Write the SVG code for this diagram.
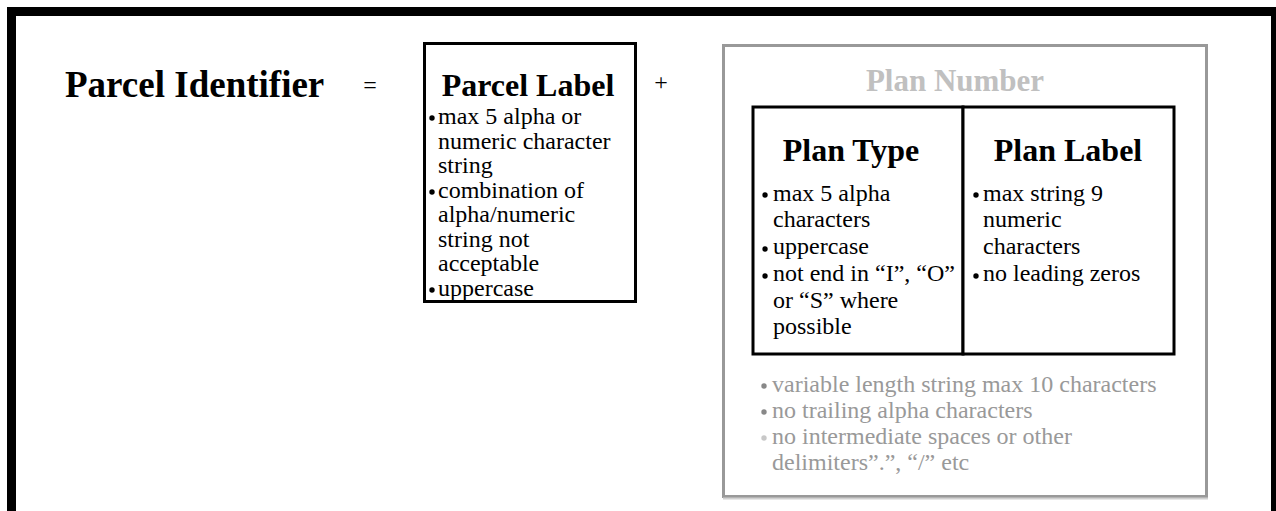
<svg xmlns="http://www.w3.org/2000/svg" width="1276" height="511" viewBox="0 0 1276 511" font-family="'Liberation Serif', 'Times New Roman', Times, serif">
<style>
text{font-family:"Liberation Serif","Times New Roman",Times,serif;}
.h{font-weight:bold;}
.b{font-size:24px;fill:#000;}
.g{font-size:24px;fill:#999;}
.box{fill:#fff;stroke:#000;stroke-width:3;}
</style>
<rect width="1276" height="511" fill="#fff"/>
<rect id="frame" x="11.5" y="11.5" width="1264" height="530" fill="none" stroke="#000" stroke-width="9"/>
<g id="parcel-identifier">
<text class="h" x="65" y="97" font-size="37">Parcel Identifier</text>
</g>
<g id="ops">
<text x="370" y="93" font-size="24" text-anchor="middle">=</text>
<text x="661" y="90" font-size="24" text-anchor="middle">+</text>
</g>
<g id="parcel-label">
<rect class="box" x="424.5" y="43.5" width="211" height="258"/>
<text class="h" x="528" y="96" font-size="32" text-anchor="middle">Parcel Label</text>
<g fill="#000">
<circle cx="432" cy="118" r="2.7"/><circle cx="432" cy="192" r="2.7"/><circle cx="432" cy="290" r="2.7"/>
</g>
<text class="b" x="438" y="124">max 5 alpha or</text>
<text class="b" x="438" y="148.5">numeric character</text>
<text class="b" x="438" y="173">string</text>
<text class="b" x="438" y="197.5">combination of</text>
<text class="b" x="438" y="222">alpha/numeric</text>
<text class="b" x="438" y="246.5">string not</text>
<text class="b" x="438" y="271">acceptable</text>
<text class="b" x="438" y="295.5">uppercase</text>
</g>
<g id="plan-number">
<rect x="723.5" y="45.5" width="483" height="451" fill="#fff" stroke="#999" stroke-width="3"/>
<line x1="723" y1="498.5" x2="1208" y2="498.5" stroke="#d0d0d0" stroke-width="2"/>
<text class="h" x="955" y="91" font-size="31" fill="#c0c0c0" text-anchor="middle">Plan Number</text>
<circle cx="764" cy="386" r="2.7" fill="#888"/>
<circle cx="764" cy="412" r="2.7" fill="#888"/>
<circle cx="764" cy="438" r="2.7" fill="#c8c8c8"/>
<text class="g" x="772" y="392">variable length string max 10 characters</text>
<text class="g" x="772" y="418">no trailing alpha characters</text>
<text class="g" x="772" y="444">no intermediate spaces or other</text>
<text class="g" x="772" y="470">delimiters”.”, “/” etc</text>
</g>
<g id="plan-type">
<rect class="box" x="753" y="107" width="210" height="247"/>
<text class="h" x="851" y="161" font-size="32" text-anchor="middle">Plan Type</text>
<g fill="#000">
<circle cx="765" cy="195" r="2.7"/><circle cx="765" cy="249" r="2.7"/><circle cx="765" cy="276" r="2.7"/>
</g>
<text class="b" x="773" y="201">max 5 alpha</text>
<text class="b" x="773" y="227">characters</text>
<text class="b" x="773" y="254">uppercase</text>
<text class="b" x="773" y="281">not end in “I”, “O”</text>
<text class="b" x="773" y="307.5">or “S” where</text>
<text class="b" x="773" y="334">possible</text>
</g>
<g id="plan-label">
<rect class="box" x="963" y="107" width="211" height="247"/>
<text class="h" x="1068" y="161" font-size="32" text-anchor="middle">Plan Label</text>
<g fill="#000">
<circle cx="976" cy="195" r="2.7"/><circle cx="976" cy="276" r="2.7"/>
</g>
<text class="b" x="983" y="201">max string 9</text>
<text class="b" x="983" y="227">numeric</text>
<text class="b" x="983" y="254">characters</text>
<text class="b" x="983" y="281">no leading zeros</text>
</g>
<g id="connectors"/>
</svg>
